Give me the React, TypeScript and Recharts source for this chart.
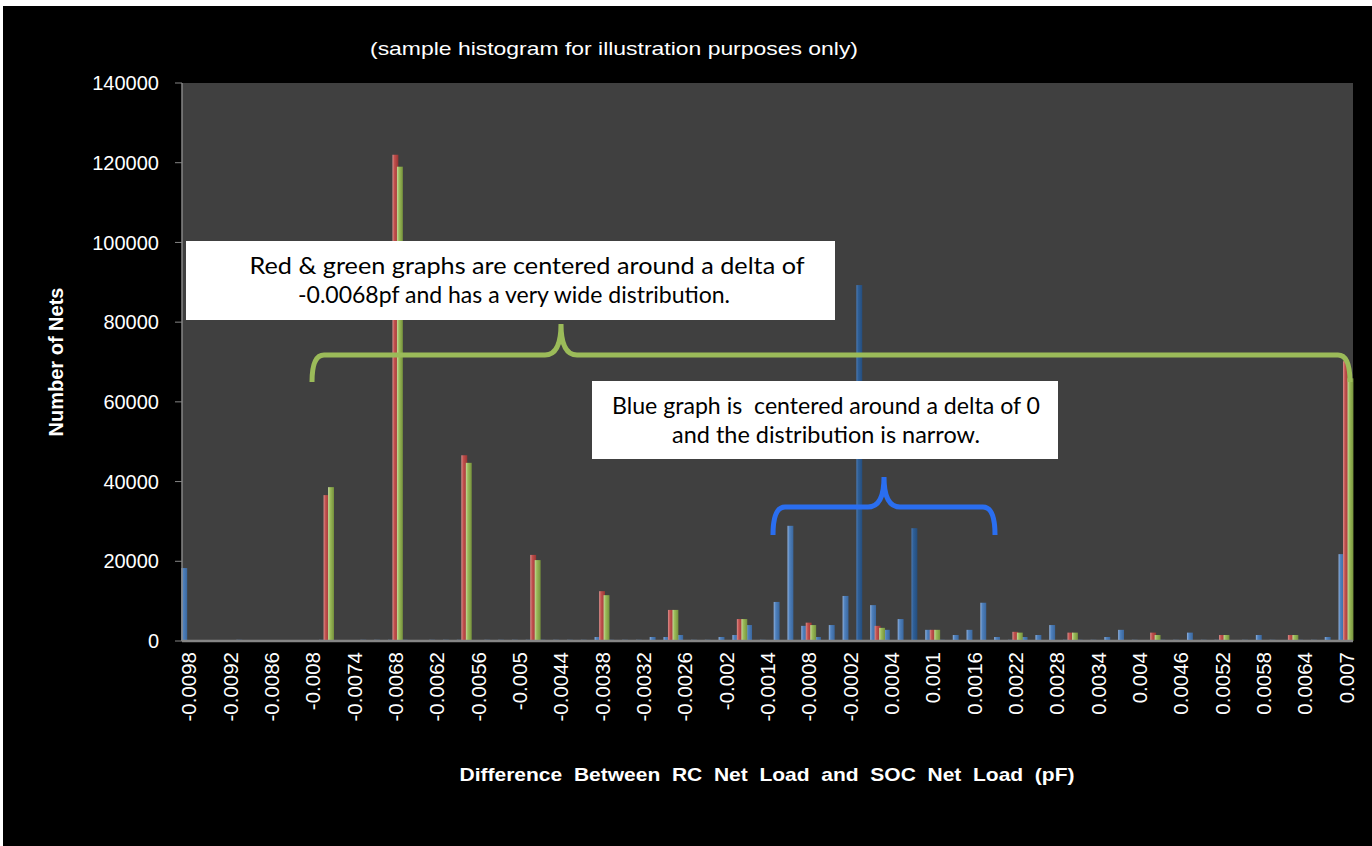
import React from "react";
import { BarChart, Bar, XAxis, YAxis, CartesianGrid, Cell } from "recharts";

// delta bins (pF), one per 0.0002
const CATEGORIES = [
  "-0.0098", "-0.0096", "-0.0094", "-0.0092", "-0.009", "-0.0088", "-0.0086", "-0.0084", "-0.0082", "-0.008",
  "-0.0078", "-0.0076", "-0.0074", "-0.0072", "-0.007", "-0.0068", "-0.0066", "-0.0064", "-0.0062", "-0.006",
  "-0.0058", "-0.0056", "-0.0054", "-0.0052", "-0.005", "-0.0048", "-0.0046", "-0.0044", "-0.0042", "-0.004",
  "-0.0038", "-0.0036", "-0.0034", "-0.0032", "-0.003", "-0.0028", "-0.0026", "-0.0024", "-0.0022", "-0.002",
  "-0.0018", "-0.0016", "-0.0014", "-0.0012", "-0.001", "-0.0008", "-0.0006", "-0.0004", "-0.0002", "0",
  "0.0002", "0.0004", "0.0006", "0.0008", "0.001", "0.0012", "0.0014", "0.0016", "0.0018", "0.002",
  "0.0022", "0.0024", "0.0026", "0.0028", "0.003", "0.0032", "0.0034", "0.0036", "0.0038", "0.004",
  "0.0042", "0.0044", "0.0046", "0.0048", "0.005", "0.0052", "0.0054", "0.0056", "0.0058", "0.006",
  "0.0062", "0.0064", "0.0066", "0.0068", "0.007",
];

const BLUE_NETS = [
  18300, 0, 0, 0, 300, 0, 0, 0, 0, 0,
  300, 0, 0, 300, 300, 300, 300, 0, 300, 300,
  300, 0, 300, 300, 300, 300, 300, 300, 300, 300,
  1000, 300, 300, 300, 1000, 1000, 1500, 300, 300, 1000,
  1500, 4000, 300, 9800, 28900, 3800, 1000, 4000, 11300, 89300,
  9000, 2800, 5500, 28300, 2800, 300, 1500, 2800, 9600, 1000,
  300, 1000, 1500, 4000, 300, 300, 300, 1000, 2800, 300,
  0, 300, 300, 2100, 300, 300, 0, 300, 1500, 300,
  0, 300, 300, 1000, 21800,
];

const RED_NETS = [
  0, 0, 0, 0, 0, 0, 0, 0, 0, 0,
  36600, 0, 0, 0, 0, 122000, 0, 0, 0, 0,
  46600, 0, 0, 0, 0, 21600, 0, 0, 0, 0,
  12500, 0, 0, 0, 0, 7800, 0, 0, 0, 0,
  5500, 0, 0, 0, 0, 4600, 0, 0, 0, 0,
  3800, 0, 0, 0, 2800, 0, 0, 0, 0, 0,
  2300, 0, 0, 0, 2100, 0, 0, 0, 0, 0,
  2100, 0, 0, 0, 0, 1500, 0, 0, 0, 0,
  1500, 0, 0, 0, 70200,
];

const GREEN_NETS = [
  0, 0, 0, 0, 0, 0, 0, 0, 0, 0,
  38600, 0, 0, 0, 0, 119000, 0, 0, 0, 0,
  44700, 0, 0, 0, 0, 20300, 0, 0, 0, 0,
  11500, 0, 0, 0, 0, 7800, 0, 0, 0, 0,
  5500, 0, 0, 0, 0, 4000, 0, 0, 0, 0,
  3300, 0, 0, 0, 2800, 0, 0, 0, 0, 0,
  2100, 0, 0, 0, 2100, 0, 0, 0, 0, 0,
  1500, 0, 0, 0, 0, 1500, 0, 0, 0, 0,
  1500, 0, 0, 0, 65900,
];

// bins whose blue bar is drawn in the darker shade
const DARK_BLUE_BINS = ["0", "0.0008"];

const Y_TICKS = [0, 20000, 40000, 60000, 80000, 100000, 120000, 140000];

const data = CATEGORIES.map((cat, i) => ({
  cat,
  blue: BLUE_NETS[i],
  red: RED_NETS[i],
  green: GREEN_NETS[i],
}));

const ARIAL = "'Liberation Sans', Arial, sans-serif";
const CALIBRI = "Lato, 'Open Sans', sans-serif";
const AXIS_GRAY = "#868686";

const WideBar = (props: any) => {
  const { x, y, width, height, fill } = props;
  if (!height || height <= 0) return <g />;
  return <rect x={x - 0.7} y={y} width={width + 1.4} height={height} fill={fill} />;
};

const XTick = ({ x, y, payload }: any) => (
  <text
    x={x}
    y={y}
    transform={`rotate(-90, ${x}, ${y})`}
    textAnchor="end"
    dominantBaseline="central"
    fill="#fff"
    fontSize={20.5}
    fontFamily={ARIAL}
  >
    {payload.value}
  </text>
);

const brace = (x1: number, x2: number, xm: number, yb: number, yh: number, yp: number) => {
  const r = 12;
  const c = 16;
  return `M ${x1} ${yb} Q ${x1} ${yh} ${x1 + r} ${yh} L ${xm - c} ${yh} Q ${xm} ${yh} ${xm} ${yp} Q ${xm} ${yh} ${xm + c} ${yh} L ${x2 - r} ${yh} Q ${x2} ${yh} ${x2} ${yb}`;
};

const pre = { whiteSpace: "pre" } as React.CSSProperties;

const App: React.FC = () => {
  return (
    <div style={{ position: "absolute", left: 0, top: 0, width: 1372, height: 846, background: "#fff" }}>
      <div style={{ position: "absolute", left: 3, top: 6, width: 1369, height: 840, background: "#000" }} />
      <svg width={0} height={0} style={{ position: "absolute" }}>
        <defs>
          <linearGradient id="gBlue" x1="0" y1="0" x2="1" y2="0">
            <stop offset="0" stopColor="#8fb0dc" />
            <stop offset="0.35" stopColor="#4f81bd" />
            <stop offset="1" stopColor="#3a679e" />
          </linearGradient>
          <linearGradient id="gDarkBlue" x1="0" y1="0" x2="1" y2="0">
            <stop offset="0" stopColor="#4a7ab5" />
            <stop offset="0.35" stopColor="#2f5f96" />
            <stop offset="1" stopColor="#244d7d" />
          </linearGradient>
          <linearGradient id="gRed" x1="0" y1="0" x2="1" y2="0">
            <stop offset="0" stopColor="#dc8e8c" />
            <stop offset="0.35" stopColor="#c0504d" />
            <stop offset="1" stopColor="#9b3533" />
          </linearGradient>
          <linearGradient id="gGreen" x1="0" y1="0" x2="1" y2="0">
            <stop offset="0" stopColor="#c6da9e" />
            <stop offset="0.35" stopColor="#9bbb59" />
            <stop offset="1" stopColor="#76923c" />
          </linearGradient>
        </defs>
      </svg>
      <div style={{ position: "absolute", left: 0, top: 0 }}>
        <BarChart
          width={1372}
          height={846}
          data={data}
          margin={{ top: 83, right: 19, bottom: 65, left: 82 }}
          barCategoryGap={0}
          barGap={0}
        >
          <CartesianGrid fill="#404040" stroke="none" horizontal={false} vertical={false} />
          <XAxis
            dataKey="cat"
            interval={2}
            height={140}
            tick={<XTick />}
            tickLine={false}
            tickSize={0}
            tickMargin={11}
            axisLine={{ stroke: AXIS_GRAY, strokeWidth: 2.5 }}
          />
          <YAxis
            width={100}
            domain={[0, 140000]}
            ticks={Y_TICKS}
            interval={0}
            tick={{ fill: "#fff", fontSize: 20, fontFamily: ARIAL }}
            tickSize={7}
            tickMargin={16}
            tickLine={{ stroke: AXIS_GRAY }}
            axisLine={{ stroke: AXIS_GRAY, strokeWidth: 1.5 }}
          />
          <Bar dataKey="blue" barSize={4.5} fill="url(#gBlue)" shape={WideBar} isAnimationActive={false}>
            {data.map((d) => (
              <Cell key={d.cat} fill={DARK_BLUE_BINS.includes(d.cat) ? "url(#gDarkBlue)" : "url(#gBlue)"} />
            ))}
          </Bar>
          <Bar dataKey="red" barSize={4.5} fill="url(#gRed)" shape={WideBar} isAnimationActive={false} />
          <Bar dataKey="green" barSize={4.5} fill="url(#gGreen)" shape={WideBar} isAnimationActive={false} />
        </BarChart>
      </div>
      <svg width={1372} height={846} style={{ position: "absolute", left: 0, top: 0, pointerEvents: "none" }}>
        <text x={614} y={55} textAnchor="middle" fill="#fff" fontSize={19} fontFamily={ARIAL} textLength={488} lengthAdjust="spacingAndGlyphs">
          (sample histogram for illustration purposes only)
        </text>
        <text
          x={0}
          y={0}
          transform="translate(63, 362) rotate(-90)"
          textAnchor="middle"
          fill="#fff"
          fontSize={20}
          fontWeight="bold"
          fontFamily={ARIAL}
        >
          Number of Nets
        </text>
        <text
          x={767}
          y={781}
          textAnchor="middle"
          fill="#fff"
          fontSize={19}
          fontWeight="bold"
          fontFamily={ARIAL}
          textLength={615}
          lengthAdjust="spacingAndGlyphs"
          style={pre}
        >
          {"Difference  Between  RC  Net  Load  and  SOC  Net  Load  (pF)"}
        </text>

        <path d={brace(312, 1350, 561, 382, 355, 324)} fill="none" stroke="#9bbb59" strokeWidth={5} />
        <path d={brace(773, 995, 884, 535, 507, 477)} fill="none" stroke="#2a6ef0" strokeWidth={5} />

        <rect x={186} y={241} width={649} height={79} fill="#fff" />
        <text x={527} y={274} textAnchor="middle" fill="#000" fontSize={23} fontFamily={CALIBRI} textLength={555} lengthAdjust="spacingAndGlyphs">
          Red &amp; green graphs are centered around a delta of
        </text>
        <text x={514} y={303} textAnchor="middle" fill="#000" fontSize={23} fontFamily={CALIBRI} textLength={432} lengthAdjust="spacingAndGlyphs">
          -0.0068pf and has a very wide distribution.
        </text>

        <rect x={592} y={381} width={466} height={78} fill="#fff" />
        <text
          x={826}
          y={414}
          textAnchor="middle"
          fill="#000"
          fontSize={23}
          fontFamily={CALIBRI}
          textLength={428}
          lengthAdjust="spacingAndGlyphs"
          style={pre}
        >
          {"Blue graph is  centered around a delta of 0"}
        </text>
        <text x={826} y={443} textAnchor="middle" fill="#000" fontSize={23} fontFamily={CALIBRI} textLength={308} lengthAdjust="spacingAndGlyphs">
          and the distribution is narrow.
        </text>
      </svg>
    </div>
  );
};

export default App;
